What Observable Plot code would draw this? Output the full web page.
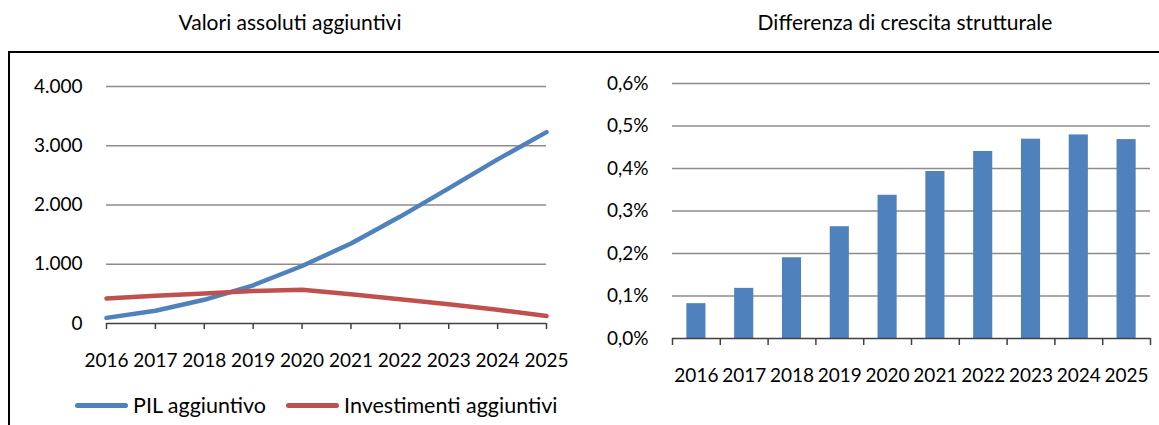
<!DOCTYPE html>
<html><head><meta charset="utf-8">
<script src="https://cdn.jsdelivr.net/npm/d3@7"></script>
<script src="https://cdn.jsdelivr.net/npm/@observablehq/plot@0.6"></script>
<style>
body{margin:0;background:#fff;font-family:Lato,"Open Sans",sans-serif;color:#000;}
#wrap{position:relative;width:1159px;height:425px;overflow:hidden;background:#fff;}
.title{position:absolute;top:9px;text-align:center;font-size:21px;line-height:26px;}
#frame{position:absolute;left:8px;top:51px;width:1160px;height:400px;border-top:2px solid #000;border-left:2px solid #000;}
.panel{position:absolute;top:0;}
#legend{position:absolute;left:75px;top:392px;display:flex;align-items:center;font-size:21.5px;line-height:26px;white-space:nowrap;}
.sw{display:inline-block;width:53px;height:5px;border-radius:3px;margin-right:5px;}
.item{display:flex;align-items:center;margin-right:20px;}
</style></head><body>
<div id="wrap">
  <div id="frame"></div>
  <div class="title" style="left:0;width:580px">Valori assoluti aggiuntivi</div>
  <div class="title" style="left:600px;width:610px">Differenza di crescita strutturale</div>
  <div id="left" class="panel" style="left:0"></div>
  <div id="right" class="panel" style="left:580px"></div>
  <div id="legend"></div>
</div>
<script>
// ---- data ----
const years = [2016, 2017, 2018, 2019, 2020, 2021, 2022, 2023, 2024, 2025];
const pilAggiuntivo = [95, 215, 400, 645, 970, 1350, 1800, 2280, 2770, 3230];
const investimentiAggiuntivi = [420, 470, 505, 550, 570, 495, 410, 325, 232, 125];
const crescitaStrutturale = [0.082, 0.118, 0.190, 0.263, 0.337, 0.393, 0.440, 0.469, 0.479, 0.468];
const leftTicks = [0, 1000, 2000, 3000, 4000];
const rightTicks = [0, 0.1, 0.2, 0.3, 0.4, 0.5, 0.6];
const seriesNames = ["PIL aggiuntivo", "Investimenti aggiuntivi"];
const colors = ["#4F81BD", "#C0504D"];

const lineData = [
  ...years.map((y, i) => ({year: y, value: pilAggiuntivo[i], s: seriesNames[0]})),
  ...years.map((y, i) => ({year: y, value: investimentiAggiuntivi[i], s: seriesNames[1]}))
];
const barData = years.map((y, i) => ({year: y, value: crescitaStrutturale[i]}));
const boundaries = [...years.map(y => y - 0.5), years[years.length - 1] + 0.5];

const itFmt = d => d3.format(",")(d).replace(/,/g, ".");
const pctFmt = d => d.toFixed(1).replace(".", ",") + "%";
const baseStyle = {background: "transparent", fontFamily: "Lato, 'Open Sans', sans-serif", fontSize: "19px", color: "#000", overflow: "visible"};

const left = Plot.plot({
  width: 580, height: 380,
  marginLeft: 106, marginRight: 34, marginTop: 86, marginBottom: 57,
  style: baseStyle,
  x: {type: "linear", domain: [years[0], years[years.length - 1]], label: null},
  y: {domain: [0, 4000], label: null},
  color: {type: "identity"},
  marks: [
    Plot.gridY({ticks: leftTicks.slice(1), stroke: "#8c8c8c", strokeOpacity: 1, strokeWidth: 1.3}),
    Plot.axisY({ticks: leftTicks, tickSize: 0, tickPadding: 24, tickFormat: itFmt, fontSize: 19, fill: "#000", label: null}),
    Plot.ruleY([0], {stroke: "#404040", strokeWidth: 1.5}),
    Plot.axisX({ticks: years, tickSize: 6, tickPadding: 24, tickFormat: d => String(d), fontSize: 19, fill: "#000", stroke: "#404040", strokeWidth: 1.5, label: null}),
    Plot.line(lineData, {x: "year", y: "value", z: "s", stroke: d => colors[seriesNames.indexOf(d.s)], strokeWidth: 4.5, strokeLinecap: "round", strokeLinejoin: "round"})
  ]
});
document.getElementById("left").appendChild(left);

const right = Plot.plot({
  width: 579, height: 400,
  marginLeft: 92, marginRight: 9, marginTop: 83, marginBottom: 62,
  style: baseStyle,
  x: {type: "linear", domain: [boundaries[0], boundaries[boundaries.length - 1]], label: null},
  y: {domain: [0, 0.6], label: null},
  marks: [
    Plot.gridY({ticks: rightTicks.slice(1), stroke: "#8c8c8c", strokeOpacity: 1, strokeWidth: 1.3}),
    Plot.axisY({ticks: rightTicks, tickSize: 0, tickPadding: 24, tickFormat: pctFmt, fontSize: 19, fill: "#000", label: null}),
    Plot.rectY(barData, {x1: d => d.year - 0.2, x2: d => d.year + 0.2, y: "value", fill: "#4F81BD"}),
    Plot.ruleY([0], {stroke: "#404040", strokeWidth: 1.5}),
    Plot.axisX({ticks: boundaries, tickSize: 7, tickFormat: () => "", stroke: "#404040", strokeWidth: 1.5, label: null}),
    Plot.axisX({ticks: years, tickSize: 0, tickPadding: 30, tickFormat: d => String(d), fontSize: 19, fill: "#000", label: null})
  ]
});
document.getElementById("right").appendChild(right);

const legend = document.getElementById("legend");
seriesNames.forEach((n, i) => {
  const it = document.createElement("div");
  it.className = "item";
  const sw = document.createElement("span");
  sw.className = "sw";
  sw.style.background = colors[i];
  const t = document.createElement("span");
  t.textContent = n;
  it.appendChild(sw); it.appendChild(t);
  legend.appendChild(it);
});
</script>
</body></html>
